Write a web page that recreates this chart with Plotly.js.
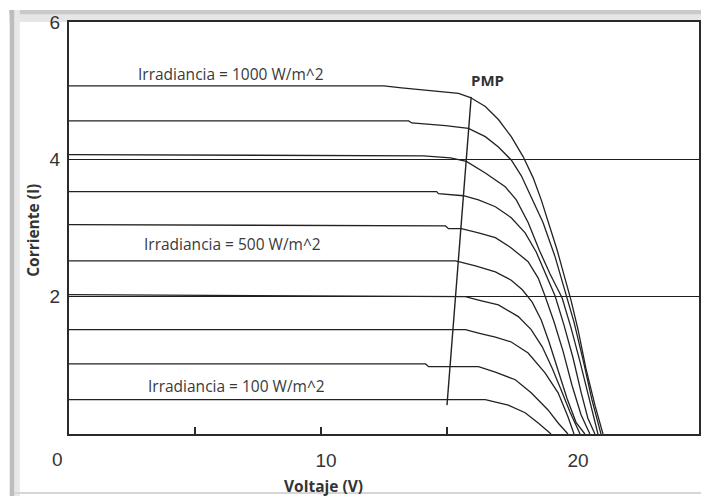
<!DOCTYPE html>
<html>
<head>
<meta charset="utf-8">
<script src="https://cdn.plot.ly/plotly-3.0.1.min.js"></script>
<style>
html,body{margin:0;padding:0;background:#fff;}
#chart{width:701px;height:496px;}
</style>
</head>
<body>
<div id="chart"></div>
<script>
// Irradiance levels (W/m^2)
const irradiance = [1000, 900, 800, 700, 600, 500, 400, 300, 200, 100];

// I-V curves: voltage (V) and current (I)
const v1000 = [0, 12.49, 13.20, 14.66, 15.46, 15.93, 16.52, 17.04, 17.55, 18.02, 18.42, 18.74, 19.05, 19.37, 19.64, 19.92, 20.20, 20.51, 20.87, 21.19];
const i1000 = [5.07, 5.07, 5.04, 4.99, 4.96, 4.90, 4.77, 4.58, 4.33, 4.04, 3.73, 3.41, 3.05, 2.68, 2.32, 1.95, 1.52, 0.96, 0.42, 0];

const v900 = [0, 13.48, 13.60, 14.94, 15.85, 16.52, 17.04, 17.55, 17.95, 18.34, 18.81, 19.29, 19.68, 20.04, 20.40, 20.75, 21.11];
const i900 = [4.56, 4.56, 4.53, 4.49, 4.45, 4.33, 4.18, 3.99, 3.76, 3.45, 3.08, 2.58, 2.10, 1.63, 1.08, 0.50, 0];

const v800 = [0, 14.07, 15.14, 15.77, 16.52, 17.31, 17.75, 18.22, 18.66, 19.09, 19.57, 19.92, 20.28, 20.63, 20.99];
const i800 = [4.07, 4.05, 4.02, 3.97, 3.80, 3.60, 3.41, 3.08, 2.68, 2.33, 1.98, 1.55, 1.05, 0.52, 0];

const v700 = [0, 14.59, 14.66, 15.65, 16.25, 16.92, 17.55, 18.10, 18.54, 18.93, 19.29, 19.64, 20.00, 20.32, 20.59, 20.87];
const i700 = [3.53, 3.53, 3.50, 3.47, 3.41, 3.31, 3.15, 2.93, 2.65, 2.33, 2.01, 1.59, 1.11, 0.61, 0.23, 0];

const v600 = [0, 14.94, 15.06, 15.57, 16.25, 16.92, 17.55, 18.22, 18.62, 18.89, 19.25, 19.61, 19.96, 20.32, 20.67];
const i600 = [3.05, 3.03, 2.99, 2.99, 2.93, 2.86, 2.71, 2.51, 2.27, 2.01, 1.63, 1.20, 0.71, 0.28, 0];

const v500 = [0, 15.34, 16.13, 16.92, 17.55, 17.99, 18.38, 18.74, 19.05, 19.41, 19.76, 20.12, 20.47];
const i500 = [2.52, 2.52, 2.45, 2.36, 2.24, 2.10, 1.92, 1.66, 1.34, 0.93, 0.52, 0.17, 0];

const v400 = [0, 15.73, 16.25, 17.04, 17.83, 18.34, 18.78, 19.17, 19.53, 19.88, 20.28];
const i400 = [2.03, 2.00, 1.95, 1.88, 1.71, 1.52, 1.27, 0.96, 0.64, 0.32, 0];

const v300 = [0, 15.73, 16.25, 16.92, 17.55, 18.22, 18.89, 19.41, 19.80, 20.04];
const i300 = [1.52, 1.52, 1.47, 1.41, 1.34, 1.18, 0.89, 0.60, 0.25, 0];

const v200 = [0, 14.15, 14.27, 16.25, 16.92, 17.71, 18.34, 19.01, 19.41, 19.80];
const i200 = [1.02, 1.02, 0.98, 0.98, 0.90, 0.79, 0.60, 0.35, 0.16, 0];

const v100 = [0, 16.52, 17.43, 18.10, 18.62, 19.13];
const i100 = [0.50, 0.50, 0.42, 0.31, 0.16, 0];

// Maximum power point line
const pmpV = [15.0, 15.96];
const pmpI = [0.42, 4.91];

// Axis ticks
const xTickVals = [0, 10, 20];
const xTickText = ['', '10', '20'];
const xOriginLabel = '0';
const xMinorVals = [5, 10, 15];
const yTickVals = [2, 4, 6];
const yTickText = ['2', '4', '6'];

const curvesV = [v1000, v900, v800, v700, v600, v500, v400, v300, v200, v100];
const curvesI = [i1000, i900, i800, i700, i600, i500, i400, i300, i200, i100];

const traces = curvesV.map((v, k) => ({
  x: v, y: curvesI[k], type: 'scatter', mode: 'lines',
  name: irradiance[k] + ' W/m^2',
  line: {color: '#222', width: 1.3},
  hoverinfo: 'x+y'
}));
traces.push({
  x: pmpV, y: pmpI, type: 'scatter', mode: 'lines', name: 'PMP',
  line: {color: '#222', width: 1.4}
});

const txtFont = {family: 'Open Sans, sans-serif', size: 15.5, color: '#3a3a3a'};
const tickFont = {family: 'Liberation Sans, Arial, sans-serif', size: 19, color: '#333'};
const titleFont = {family: 'Open Sans, sans-serif', size: 15.5, color: '#333'};

const layout = {
  width: 701, height: 496,
  margin: {l: 69, r: 2, t: 22, b: 62},
  paper_bgcolor: '#fff', plot_bgcolor: '#fff',
  showlegend: false,
  xaxis: {
    range: [0, 25], tickmode: 'array', tickvals: xTickVals, ticktext: xTickText,
    ticks: '', showgrid: false, zeroline: false,
    showline: true, linecolor: '#2a2a2a', linewidth: 2, mirror: true,
    tickfont: tickFont, ticklabelstandoff: 8, ticklabelshift: 5,
    minor: {tickmode: 'array', tickvals: xMinorVals, ticks: 'inside', ticklen: 7, tickwidth: 1.5, tickcolor: '#2a2a2a', showgrid: false}
  },
  yaxis: {
    range: [0, 6], tickmode: 'array', tickvals: yTickVals, ticktext: yTickText,
    ticks: '', showgrid: true, gridcolor: '#1e1e1e', gridwidth: 1.6, zeroline: false,
    showline: true, linecolor: '#2a2a2a', linewidth: 2, mirror: true,
    tickfont: tickFont, ticklabelstandoff: 3
  },
  annotations: [
    {x: 6.44, y: 5.25, xref: 'x', yref: 'y', text: 'Irradiancia = 1000 W/m^2', showarrow: false, font: txtFont, xanchor: 'center', yanchor: 'middle'},
    {x: 6.48, y: 2.76, xref: 'x', yref: 'y', text: 'Irradiancia = 500 W/m^2', showarrow: false, font: txtFont, xanchor: 'center', yanchor: 'middle'},
    {x: 6.64, y: 0.70, xref: 'x', yref: 'y', text: 'Irradiancia = 100 W/m^2', showarrow: false, font: txtFont, xanchor: 'center', yanchor: 'middle'},
    {x: 16.6, y: 5.15, xref: 'x', yref: 'y', text: '<b>PMP</b>', showarrow: false, font: {family: 'Open Sans, sans-serif', size: 15, color: '#333'}, xanchor: 'center', yanchor: 'middle'},
    {x: 10.08, y: -0.126, xref: 'x', yref: 'paper', text: '<b>Voltaje (V)</b>', showarrow: false, font: titleFont, xanchor: 'center', yanchor: 'middle'},
    {x: -0.057, y: 2.96, xref: 'paper', yref: 'y', text: '<b>Corriente (I)</b>', textangle: -90, showarrow: false, font: titleFont, xanchor: 'center', yanchor: 'middle'},
    {x: -0.0175, y: -0.063, xref: 'paper', yref: 'paper', text: xOriginLabel, showarrow: false, font: tickFont, xanchor: 'center', yanchor: 'middle'}
  ],
  shapes: [
    // screenshot frame: top band
    {type: 'rect', xref: 'paper', yref: 'paper', x0: -0.095, x1: 1.01, y0: 1.0, y1: 1.029, fillcolor: '#e6e6e6', line: {width: 0}, layer: 'below'},
    {type: 'rect', xref: 'paper', yref: 'paper', x0: -0.095, x1: 1.01, y0: 1.019, y1: 1.029, fillcolor: '#c9c9c9', line: {width: 0}, layer: 'below'},
    // left band
    {type: 'rect', xref: 'paper', yref: 'paper', x0: -0.094, x1: -0.078, y0: -0.16, y1: 1.029, fillcolor: '#e8e8e8', line: {width: 0}, layer: 'below'},
    {type: 'rect', xref: 'paper', yref: 'paper', x0: -0.094, x1: -0.087, y0: -0.16, y1: 1.029, fillcolor: '#bdbdbd', line: {width: 0}, layer: 'below'},
    // bottom line
    {type: 'line', xref: 'paper', yref: 'paper', x0: -0.087, x1: 1.01, y0: -0.143, y1: -0.143, line: {color: '#d6d6d6', width: 2}, layer: 'below'}
  ]
};

Plotly.newPlot('chart', traces, layout, {displayModeBar: false, staticPlot: true});
</script>
</body>
</html>
